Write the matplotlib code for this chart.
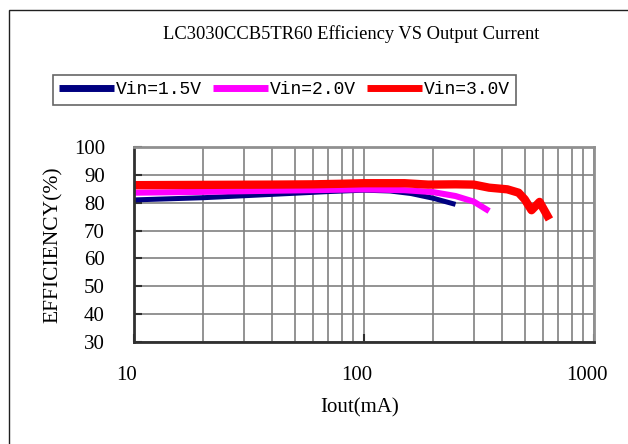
import matplotlib
matplotlib.use("Agg")
import matplotlib.pyplot as plt
import matplotlib.transforms as mtransforms
from matplotlib.patches import Rectangle
from matplotlib.ticker import FixedLocator, LogLocator, FixedFormatter

# ---- data ----
series_labels = ["Vin=1.5V", "Vin=2.0V", "Vin=3.0V"]
series_colors = ["#000080", "#FF00FF", "#FF0000"]

iout_15 = [10, 20, 30, 50, 70, 100, 130, 160, 200, 250]
eff_15 = [81.0, 81.8, 82.5, 83.4, 84.0, 84.5, 84.2, 83.3, 81.6, 79.4]

iout_20 = [10, 20, 40, 70, 100, 150, 200, 250, 300, 350]
eff_20 = [83.6, 83.9, 84.3, 84.6, 84.8, 84.5, 83.8, 82.4, 80.4, 77.0]

iout_30 = [10, 20, 40, 60, 80, 100, 150, 190, 250, 300, 350, 420, 470, 500, 535, 580, 640]
eff_30 = [86.3, 86.4, 86.5, 86.6, 86.8, 87.0, 87.0, 86.5, 86.6, 86.5, 85.4, 84.8,
          83.6, 81.2, 77.3, 80.3, 74.0]

y_ticks = [30, 40, 50, 60, 70, 80, 90, 100]
x_ticks = [10, 100, 1000]
x_tick_labels = ["10", "100", "1000"]

title = "LC3030CCB5TR60 Efficiency VS Output Current"
xlabel = "Iout(mA)"
ylabel = "EFFICIENCY(%)"

W, H = 628, 444
fig = plt.figure(figsize=(W / 100, H / 100), dpi=100)
serif = "Liberation Serif"

# outer frame
fig.patches.append(Rectangle((9 / W, -0.05), 1.1, 1 - 10 / H + 0.05,
                             transform=fig.transFigure, fill=False,
                             edgecolor="#202020", linewidth=1.0, clip_on=False))

ax = fig.add_axes([134 / W, 1 - 342 / H, (594 - 134) / W, (342 - 147) / H])
ax.set_xscale("log")
ax.set_xlim(10, 1000)
ax.set_ylim(30, 100)

widths = [3.6, 4.4, 6.0]
for xs, ys, lab, c, lw in zip([iout_15, iout_20, iout_30], [eff_15, eff_20, eff_30],
                              series_labels, series_colors, widths):
    ax.plot(xs, ys, color=c, linewidth=lw, label=lab, solid_capstyle="butt")

ax.xaxis.set_major_locator(FixedLocator(x_ticks))
ax.xaxis.set_major_formatter(FixedFormatter(x_tick_labels))
ax.xaxis.set_minor_locator(LogLocator(base=10, subs=range(2, 10)))
ax.xaxis.set_minor_formatter(plt.NullFormatter())
ax.set_yticks(y_ticks)

ax.grid(True, which="both", axis="x", color="#808080", linewidth=1.2)
ax.grid(True, which="major", axis="y", color="#808080", linewidth=1.2)
ax.set_axisbelow(True)

ax.tick_params(axis="both", which="major", direction="in", length=6, width=1.5,
               color="#303030", labelsize=15)
ax.tick_params(axis="y", which="major", pad=21)
ax.tick_params(axis="x", which="major", pad=17)
ax.tick_params(axis="x", which="minor", length=0)

shift = mtransforms.ScaledTranslation(-7 / 100, 0, fig.dpi_scale_trans)
for lab in ax.get_xticklabels():
    lab.set_fontfamily(serif)
    lab.set_transform(lab.get_transform() + shift)
for lab in ax.get_yticklabels():
    lab.set_fontfamily(serif)

for side in ["left", "bottom"]:
    ax.spines[side].set_color("#303030")
    ax.spines[side].set_linewidth(2)
for side in ["top", "right"]:
    ax.spines[side].set_color("#909090")
    ax.spines[side].set_linewidth(2)

ax.set_xlabel(xlabel, fontsize=15, fontfamily=serif)
ax.xaxis.set_label_coords(0.49, -0.29)
ax.set_ylabel(ylabel, fontsize=15.5, fontfamily=serif)
ax.yaxis.set_label_coords(-0.155, 0.5)

fig.text(351.5 / W, 1 - 34 / H, title, ha="center", va="center",
         fontsize=13.3, fontfamily=serif)

leg = ax.legend(loc="upper left", bbox_to_anchor=(53 / W, 1 - 75 / H),
                bbox_transform=fig.transFigure, ncol=3, frameon=True,
                fancybox=False, shadow=False, borderaxespad=0,
                prop={"family": "Liberation Mono", "size": 13},
                handlelength=3.05, handletextpad=0.11, columnspacing=0.6,
                borderpad=0.35)
leg.get_frame().set_edgecolor("#404040")
leg.get_frame().set_linewidth(1.2)
for h in leg.get_lines():
    h.set_linewidth(5)

fig.savefig("out.png", dpi=100)
